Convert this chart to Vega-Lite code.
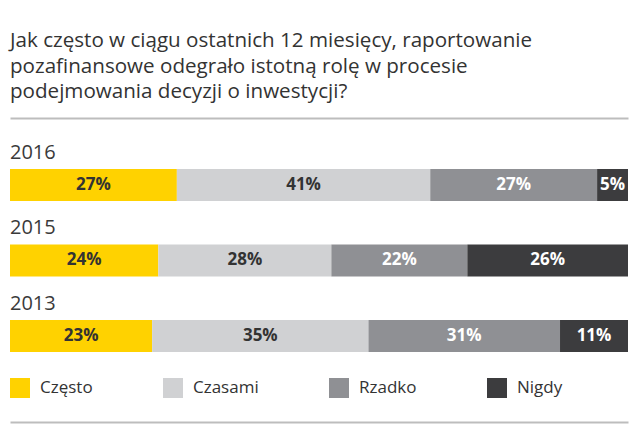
{
  "$schema": "https://vega.github.io/schema/vega-lite/v6.json",
  "width": 618,
  "height": 304,
  "padding": {"left": 10, "top": 31, "right": 11, "bottom": 15},
  "background": "white",
  "title": {
    "text": ["Jak często w ciągu ostatnich 12 miesięcy, raportowanie", "pozafinansowe odegrało istotną rolę w procesie", "podejmowania decyzji o inwestycji?"],
    "anchor": "start",
    "fontSize": 20.6,
    "font": "Open Sans",
    "fontWeight": "normal",
    "color": "#333333",
    "lineHeight": 25.5,
    "offset": 15
  },
  "data": {
    "values": [
      {"year": "2016", "cat": "Często", "rank": 1, "pct": 0.27},
      {"year": "2016", "cat": "Czasami", "rank": 2, "pct": 0.41},
      {"year": "2016", "cat": "Rzadko", "rank": 3, "pct": 0.27},
      {"year": "2016", "cat": "Nigdy", "rank": 4, "pct": 0.05},
      {"year": "2015", "cat": "Często", "rank": 1, "pct": 0.24},
      {"year": "2015", "cat": "Czasami", "rank": 2, "pct": 0.28},
      {"year": "2015", "cat": "Rzadko", "rank": 3, "pct": 0.22},
      {"year": "2015", "cat": "Nigdy", "rank": 4, "pct": 0.26},
      {"year": "2013", "cat": "Często", "rank": 1, "pct": 0.23},
      {"year": "2013", "cat": "Czasami", "rank": 2, "pct": 0.35},
      {"year": "2013", "cat": "Rzadko", "rank": 3, "pct": 0.31},
      {"year": "2013", "cat": "Nigdy", "rank": 4, "pct": 0.11}
    ]
  },
  "transform": [
    {"stack": "pct", "groupby": ["year"], "sort": [{"field": "rank", "order": "ascending"}], "as": ["x0", "x1"]}
  ],
  "layer": [
    {
      "mark": {"type": "bar", "height": 32},
      "encoding": {
        "y": {"field": "year", "type": "nominal", "sort": ["2016", "2015", "2013"], "axis": null,
              "scale": {"paddingInner": 0, "paddingOuter": 0.513, "align": 0.377}},
        "x": {"field": "x0", "type": "quantitative", "scale": {"domain": [0, 1], "nice": false},
              "axis": {"orient": "top", "domain": true, "domainColor": "#bdbdbd", "domainWidth": 2, "ticks": false, "labels": false, "grid": false, "title": null}},
        "x2": {"field": "x1"},
        "color": {
          "field": "cat", "type": "nominal",
          "scale": {"domain": ["Często", "Czasami", "Rzadko", "Nigdy"], "range": ["#ffd200", "#d0d1d3", "#8f9094", "#3c3c3e"]},
          "legend": {
            "orient": "none", "legendX": 0, "legendY": 260, "direction": "horizontal", "title": null,
            "symbolType": "square", "symbolSize": 400, "symbolStrokeWidth": 0, "symbolOpacity": 1,
            "labelFontSize": 17, "labelFont": "Open Sans", "labelColor": "#333333", "labelOffset": 10,
            "columnPadding": 70
          }
        }
      }
    },
    {
      "transform": [
        {"fold": ["x0", "x1"], "as": ["edge", "pos"]},
        {"aggregate": [{"op": "mean", "field": "pos", "as": "mid"}], "groupby": ["year", "cat", "rank", "pct"]}
      ],
      "mark": {"type": "text", "fontSize": 17, "fontWeight": "bold", "font": "Open Sans"},
      "encoding": {
        "y": {"field": "year", "type": "nominal", "sort": ["2016", "2015", "2013"], "axis": null},
        "x": {"field": "mid", "type": "quantitative",
              "axis": {"orient": "bottom", "domain": true, "domainColor": "#bdbdbd", "domainWidth": 2, "ticks": false, "labels": false, "grid": false, "title": null}},
        "text": {"field": "pct", "type": "quantitative", "format": ".0%"},
        "color": {"condition": {"test": "datum.rank <= 2", "value": "#333333"}, "value": "#ffffff"}
      }
    },
    {
      "transform": [{"filter": "datum.rank == 1"}],
      "mark": {"type": "text", "align": "left", "baseline": "alphabetic", "yOffset": -26, "fontSize": 20, "font": "Open Sans", "color": "#3a3a3a"},
      "encoding": {
        "y": {"field": "year", "type": "nominal", "sort": ["2016", "2015", "2013"], "axis": null},
        "x": {"datum": 0, "type": "quantitative", "axis": null},
        "text": {"field": "year", "type": "nominal"}
      }
    }
  ],
  "resolve": {"axis": {"x": "independent"}},
  "config": {"view": {"stroke": null}, "font": "Open Sans"}
}
